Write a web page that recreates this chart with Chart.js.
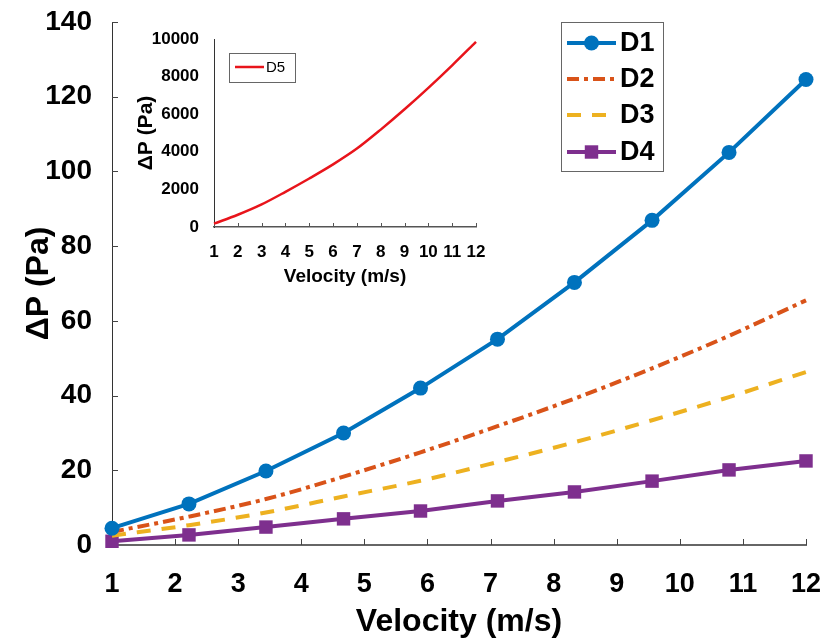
<!DOCTYPE html>
<html>
<head>
<meta charset="utf-8">
<script src="https://cdn.jsdelivr.net/npm/chart.js@4.4.1/dist/chart.umd.min.js"></script>
<style>
  html, body { margin: 0; padding: 0; background: #ffffff; }
  #wrap { position: relative; width: 827px; height: 643px; }
  #main { position: absolute; left: 0; top: 0; }
  #inset { position: absolute; left: 130px; top: 20px; }
</style>
</head>
<body>
<div id="wrap">
  <canvas id="main" width="827" height="643"></canvas>
  <canvas id="inset" width="370" height="270"></canvas>
</div>
<script>
// ---- data ----
const velocity = [1, 2.22, 3.44, 4.67, 5.89, 7.11, 8.33, 9.56, 10.78, 12];
const d1 = [4.5, 11.0, 19.8, 30.0, 42.0, 55.1, 70.3, 86.9, 105.1, 124.6];
const d2 = [3.5, 7.6, 12.3, 18.3, 24.8, 31.8, 39.2, 47.3, 56.0, 65.5];
const d3 = [2.5, 5.3, 8.7, 13.0, 17.2, 22.2, 27.5, 33.4, 39.6, 46.3];
const d4 = [1.0, 2.7, 4.8, 7.0, 9.1, 11.8, 14.2, 17.1, 20.1, 22.5];
const xTicks = [1, 2, 3, 4, 5, 6, 7, 8, 9, 10, 11, 12];
const yTicks = [0, 20, 40, 60, 80, 100, 120, 140];

const insetVelocity = [1, 2, 3, 4, 5, 6, 7, 8, 9, 10, 11, 12];
const d5 = [180, 650, 1200, 1870, 2580, 3330, 4170, 5180, 6260, 7400, 8600, 9850];
const insetYTicks = [0, 2000, 4000, 6000, 8000, 10000];

const seriesNames = ['D1', 'D2', 'D3', 'D4'];
const insetName = 'D5';

const FONT = "'Liberation Sans', Arial, sans-serif";

function pts(xs, ys) { return xs.map((x, i) => ({ x: x, y: ys[i] })); }

// inward tick marks
const inwardTicks = {
  id: 'inwardTicks',
  beforeDatasetsDraw(chart, args, opts) {
    const ctx = chart.ctx, a = chart.chartArea;
    ctx.save();
    ctx.strokeStyle = opts.color || '#444';
    ctx.lineWidth = 1;
    if (opts.x) {
      const s = chart.scales.x;
      s.ticks.forEach(t => {
        const px = Math.round(s.getPixelForValue(t.value)) + 0.5;
        ctx.beginPath(); ctx.moveTo(px, a.bottom); ctx.lineTo(px, a.bottom - opts.len); ctx.stroke();
      });
    }
    if (opts.y) {
      const s = chart.scales.y;
      s.ticks.forEach(t => {
        const py = Math.round(s.getPixelForValue(t.value)) + 0.5;
        ctx.beginPath(); ctx.moveTo(a.left, py); ctx.lineTo(a.left + opts.len, py); ctx.stroke();
      });
    }
    ctx.restore();
  }
};

// custom boxed legend drawn from the datasets
const boxLegend = {
  id: 'boxLegend',
  afterDraw(chart, args, o) {
    if (!o || !o.enabled) return;
    const ctx = chart.ctx;
    ctx.save();
    ctx.strokeStyle = o.borderColor; ctx.lineWidth = 1;
    ctx.fillStyle = '#ffffff';
    ctx.fillRect(o.x, o.y, o.w, o.h);
    ctx.strokeRect(o.x + 0.5, o.y + 0.5, o.w, o.h);
    chart.data.datasets.forEach((ds, i) => {
      const yy = o.rowY[i];
      ctx.save();
      ctx.strokeStyle = ds.borderColor; ctx.lineWidth = ds.borderWidth;
      ctx.setLineDash(ds.borderDash || []);
      ctx.beginPath(); ctx.moveTo(o.lineX0, yy); ctx.lineTo(o.lineX1, yy); ctx.stroke();
      ctx.setLineDash([]);
      if (ds.pointRadius > 0) {
        ctx.fillStyle = ds.pointBackgroundColor; ctx.strokeStyle = ds.pointBackgroundColor;
        Chart.helpers.drawPoint(ctx, { pointStyle: ds.pointStyle, radius: ds.pointRadius, rotation: 0, borderWidth: 0 }, (o.lineX0 + o.lineX1) / 2, yy);
      }
      ctx.restore();
      ctx.fillStyle = '#000';
      ctx.font = o.font;
      ctx.textBaseline = 'middle'; ctx.textAlign = 'left';
      ctx.fillText(ds.label, o.textX, yy + 1);
    });
    ctx.restore();
  }
};

Chart.register(inwardTicks, boxLegend);

const noPadX = s => { s.paddingLeft = 0; s.paddingRight = 0; };
const noPadY = s => { s.paddingTop = 0; s.paddingBottom = 0; };

new Chart(document.getElementById('main'), {
  type: 'line',
  data: {
    datasets: [
      { label: seriesNames[0], data: pts(velocity, d1), borderColor: '#0072BD', backgroundColor: '#0072BD',
        pointBackgroundColor: '#0072BD', pointBorderWidth: 0, borderWidth: 4, pointStyle: 'circle', pointRadius: 7.5, clip: false },
      { label: seriesNames[1], data: pts(velocity, d2), borderColor: '#D95319', backgroundColor: '#D95319',
        borderWidth: 4, borderDash: [12, 5, 4, 5], pointRadius: 0, cubicInterpolationMode: 'monotone', clip: false },
      { label: seriesNames[2], data: pts(velocity, d3), borderColor: '#EDB120', backgroundColor: '#EDB120',
        borderWidth: 4, borderDash: [14, 11], pointRadius: 0, cubicInterpolationMode: 'monotone', clip: false },
      { label: seriesNames[3], data: pts(velocity, d4), borderColor: '#7E2F8E', backgroundColor: '#7E2F8E',
        pointBackgroundColor: '#7E2F8E', pointBorderWidth: 0, borderWidth: 4, pointStyle: 'rect', pointRadius: 9.5, clip: false }
    ]
  },
  options: {
    responsive: false, animation: false, devicePixelRatio: 1,
    layout: { padding: { left: 0, right: 21, top: 22, bottom: 0 } },
    plugins: {
      legend: { display: false }, tooltip: { enabled: false },
      inwardTicks: { x: true, y: true, len: 6, color: '#444' },
      boxLegend: { enabled: true, x: 561, y: 22, w: 102, h: 149, borderColor: '#666',
        rowY: [43, 79, 115, 152], lineX0: 567, lineX1: 616, textX: 620,
        font: "bold 27px " + FONT }
    },
    scales: {
      x: {
        type: 'linear', min: 1, max: 12,
        afterFit: s => { s.height = 98; noPadX(s); },
        afterBuildTicks: s => { s.ticks = xTicks.map(v => ({ value: v })); },
        grid: { display: false },
        border: { display: true, color: '#666', width: 2 },
        ticks: { color: '#000', font: { family: FONT, size: 27, weight: 'bold' }, padding: 15, autoSkip: false, maxRotation: 0,
          callback: v => String(v) },
        title: { display: true, text: 'Velocity (m/s)', color: '#000',
          font: { family: FONT, size: 32, weight: 'bold' }, padding: { top: 0, bottom: 2 } }
      },
      y: {
        type: 'linear', min: 0, max: 140,
        afterFit: s => { s.width = 112; noPadY(s); },
        afterBuildTicks: s => { s.ticks = yTicks.map(v => ({ value: v })); },
        grid: { display: false },
        border: { display: true, color: '#333', width: 1 },
        ticks: { color: '#000', font: { family: FONT, size: 28, weight: 'bold' }, padding: 12, callback: v => String(v) },
        title: { display: true, text: 'ΔP (Pa)', color: '#000',
          font: { family: FONT, size: 32, weight: 'bold' }, padding: { top: 20, bottom: 0 } }
      }
    }
  }
});

new Chart(document.getElementById('inset'), {
  type: 'line',
  data: {
    datasets: [
      { label: insetName, data: pts(insetVelocity, d5), borderColor: '#E8141B', backgroundColor: '#E8141B',
        borderWidth: 2.5, pointRadius: 0, cubicInterpolationMode: 'monotone', clip: false }
    ]
  },
  options: {
    responsive: false, animation: false, devicePixelRatio: 1,
    layout: { padding: { left: 0, right: 24, top: 19, bottom: 0 } },
    plugins: {
      legend: { display: false }, tooltip: { enabled: false },
      inwardTicks: { x: true, y: false, len: 4, color: '#555' },
      boxLegend: { enabled: true, x: 99, y: 33, w: 66, h: 29, borderColor: '#666',
        rowY: [47], lineX0: 105, lineX1: 134, textX: 136,
        font: "15px " + FONT }
    },
    scales: {
      x: {
        type: 'linear', min: 1, max: 12,
        afterFit: s => { s.height = 63; noPadX(s); },
        afterBuildTicks: s => { s.ticks = insetVelocity.map(v => ({ value: v })); },
        grid: { display: false },
        border: { display: true, color: '#555', width: 1.5 },
        ticks: { color: '#000', font: { family: FONT, size: 17, weight: 'bold' }, padding: 7, autoSkip: false, maxRotation: 0,
          callback: v => String(v) },
        title: { display: true, text: 'Velocity (m/s)', color: '#000',
          font: { family: FONT, size: 19, weight: 'bold' }, padding: { top: 0, bottom: 2 } }
      },
      y: {
        type: 'linear', min: 0, max: 10000,
        afterFit: s => { s.width = 84; noPadY(s); },
        afterBuildTicks: s => { s.ticks = insetYTicks.map(v => ({ value: v })); },
        grid: { display: false },
        border: { display: true, color: '#333', width: 1 },
        ticks: { color: '#000', font: { family: FONT, size: 17, weight: 'bold' }, padding: 7, callback: v => String(v) },
        title: { display: true, text: 'ΔP (Pa)', color: '#000',
          font: { family: FONT, size: 21, weight: 'bold' }, padding: { top: 4, bottom: 0 } }
      }
    }
  }
});
</script>
</body>
</html>
